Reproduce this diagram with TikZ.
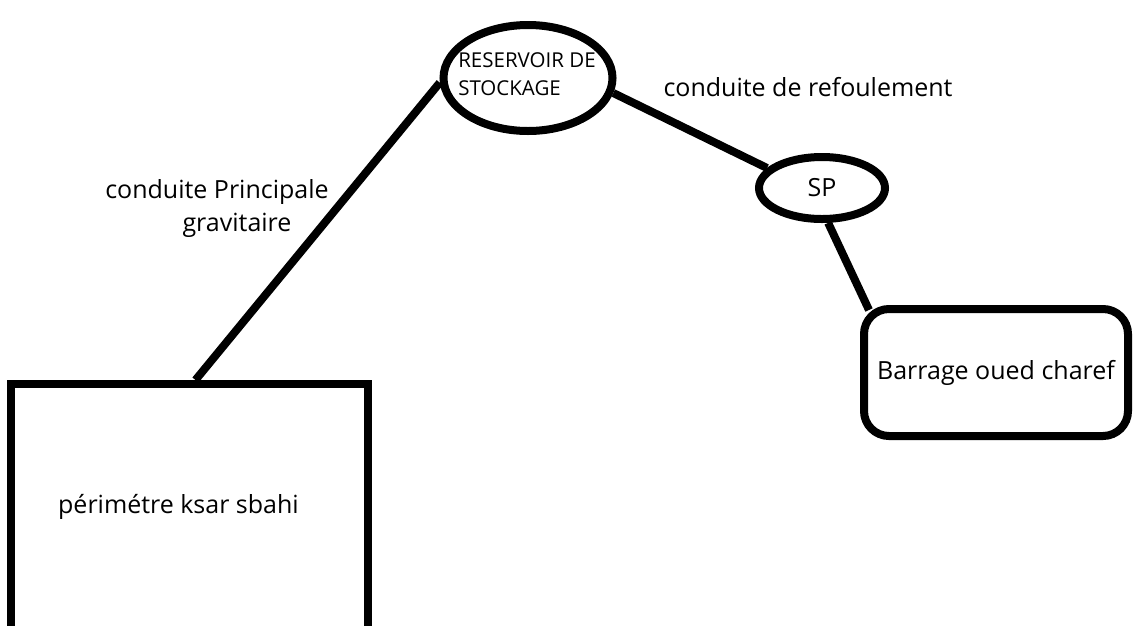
\documentclass[tikz,border=0pt]{standalone}
\usepackage{fontspec}
\setmainfont{Open Sans}
\usetikzlibrary{shapes.geometric}
\begin{document}
\begin{tikzpicture}[x=1pt,y=-1pt,
  pipe/.style={line width=8pt},
  txt/.style={font=\fontsize{25}{33}\selectfont, inner sep=0pt},
  oval/.style={ellipse, draw, line width=8pt, inner sep=0pt},
  boxnode/.style={draw, line width=8pt, inner sep=0pt}]
\useasboundingbox (0,0) rectangle (1135,625);
\clip (0,0) rectangle (1135,625);
\fill[white] (0,0) rectangle (1135,625);

\node[oval, minimum width=169pt, minimum height=106pt,
  label={[font=\fontsize{20.5}{28}\selectfont, align=left, inner sep=0pt, yshift=4pt, xshift=-1pt]center:RESERVOIR DE\\STOCKAGE}] (res) at (528,78) {};
\node[oval, minimum width=126pt, minimum height=62pt, txt] (sp) at (822,188) {SP};
\node[boxnode, rounded corners=25pt, minimum width=264pt, minimum height=127pt, txt] (bar) at (996,372.5) {Barrage oued charef};
\node[boxnode, minimum width=357pt, minimum height=246pt,
  label={[txt, xshift=-11pt]center:périmétre ksar sbahi}] (peri) at (189.5,507) {};

\node[txt, align=center] (lblgrav) at (217,208) {conduite Principale\\\hspace*{40pt}gravitaire};
\node[txt] (lblref) at (808,87) {conduite de refoulement};

\draw[pipe] (res.183) -- ([xshift=6pt]peri.north);
\draw[pipe] (res.-10) -- (sp.160);
\draw[pipe] (sp.-80) -- ([shift={(9pt,-5pt)}]bar.north west);
\end{tikzpicture}
\end{document}
